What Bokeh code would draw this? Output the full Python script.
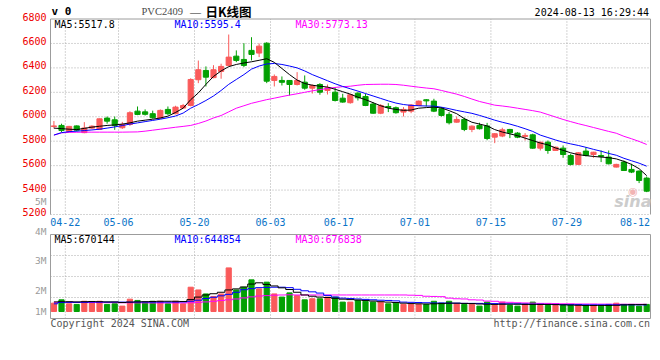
from bokeh.plotting import figure
from bokeh.models import ColumnDataSource, Range1d
from bokeh.embed import file_html
from bokeh.resources import INLINE
from bokeh.core.properties import value

# ---------------- data ----------------
dates = ["04-19","04-22","04-23","04-24","04-25","04-26","04-29","04-30","05-06","05-07",
         "05-08","05-09","05-10","05-13","05-14","05-15","05-16","05-17","05-20","05-21",
         "05-22","05-23","05-24","05-27","05-28","05-29","05-30","05-31","06-03","06-04",
         "06-05","06-06","06-07","06-11","06-12","06-13","06-14","06-17","06-18","06-19",
         "06-20","06-21","06-24","06-25","06-26","06-27","06-28","07-01","07-02","07-03",
         "07-04","07-05","07-08","07-09","07-10","07-11","07-12","07-15","07-16","07-17",
         "07-18","07-19","07-22","07-23","07-24","07-25","07-26","07-29","07-30","07-31",
         "08-01","08-02","08-05","08-06","08-07","08-08","08-09","08-12","08-13"]

opens = [5920,5929,5880,5925,5870,5907,5896,5989,5975,5910,
         5937,6046,6040,6025,5989,6060,6025,6071,6092,6303,
         6379,6320,6371,6420,6496,6469,6543,6521,6602,6297,
         6297,6297,6264,6283,6234,6264,6215,6201,6152,6115,
         6193,6166,6104,6029,6084,6074,6038,6046,6092,6139,
         6128,6065,6019,5956,5978,5896,5929,5925,5833,5842,
         5896,5866,5839,5852,5743,5792,5724,5743,5683,5610,
         5719,5691,5683,5670,5588,5629,5569,5555,5498]
highs = [5965,5943,5925,5929,5956,5930,5985,6002,6002,5958,
         6045,6084,6060,6050,6060,6084,6090,6105,6315,6460,
         6412,6422,6434,6673,6543,6602,6651,6600,6610,6346,
         6330,6300,6365,6338,6265,6275,6264,6242,6188,6188,
         6201,6188,6120,6104,6111,6084,6079,6104,6133,6145,
         6147,6079,6038,6002,5992,5929,5951,5950,5866,5910,
         5901,5874,5866,5861,5795,5806,5755,5765,5697,5711,
         5751,5713,5724,5724,5615,5642,5615,5561,5511]
lows = [5905,5874,5875,5880,5865,5900,5893,5943,5893,5900,
        5925,6013,6010,5985,5985,6015,6020,6065,6085,6275,
        6248,6315,6311,6415,6447,6406,6461,6488,6275,6248,
        6256,6174,6256,6221,6190,6180,6182,6125,6115,6107,
        6133,6087,6025,6021,6038,6025,6002,6029,6087,6084,
        6038,6002,5937,5951,5882,5874,5896,5808,5784,5833,
        5825,5825,5806,5738,5724,5697,5720,5664,5601,5605,
        5675,5664,5629,5610,5585,5560,5539,5457,5383]
closes = [5925,5888,5921,5890,5908,5923,5983,5964,5929,5937,
          6033,6019,6020,5992,6052,6025,6079,6092,6305,6385,
          6324,6385,6412,6488,6461,6420,6510,6578,6291,6330,
          6282,6264,6297,6234,6256,6201,6237,6133,6120,6180,
          6155,6092,6029,6092,6076,6033,6060,6096,6128,6130,
          6046,6011,5951,5978,5896,5923,5902,5822,5861,5893,
          5869,5833,5847,5743,5792,5724,5751,5691,5610,5705,
          5683,5710,5675,5615,5610,5560,5547,5479,5391]

ma5 = [5907,5903,5898,5895,5905,5915,5922,5929,5933,5940,
       5950,5964,5972,5980,5990,6005,6035,6070,6140,6195,
       6265,6330,6375,6410,6428,6440,6450,6462,6475,6445,
       6395,6345,6300,6272,6258,6250,6243,6225,6205,6185,
       6160,6140,6115,6090,6070,6060,6052,6055,6070,6075,
       6079,6072,6050,6025,5985,5955,5940,5925,5895,5875,
       5860,5845,5825,5805,5785,5770,5745,5725,5705,5690,
       5682,5675,5670,5665,5655,5635,5610,5575,5517.8]
ma10 = [5850,5870,5878,5882,5887,5892,5898,5907,5917,5928,
        5940,5950,5960,5970,5980,5992,6006,6030,6070,6100,
        6133,6170,6215,6265,6305,6345,6390,6415,6432,6436,
        6428,6415,6400,6375,6345,6320,6295,6270,6248,6229,
        6210,6190,6170,6150,6130,6112,6100,6093,6090,6088,
        6087,6078,6066,6052,6040,6028,6011,5992,5972,5955,
        5940,5922,5902,5880,5850,5830,5810,5792,5778,5765,
        5750,5733,5718,5700,5685,5660,5640,5620,5595.4]
ma30 = [5850,5868,5872,5873,5874,5874,5874,5874,5874,5874,
        5875,5876,5882,5890,5898,5906,5914,5921,5929,5945,
        5965,5990,6010,6040,6070,6090,6110,6125,6140,6152,
        6165,6177,6188,6200,6212,6222,6232,6240,6246,6250,
        6258,6264,6265,6266,6266,6264,6258,6250,6242,6235,
        6229,6215,6200,6185,6166,6145,6125,6110,6095,6088,
        6080,6070,6060,6050,6038,6018,5998,5978,5960,5943,
        5928,5912,5896,5880,5865,5840,5820,5798,5773.13]

volumes = [730000,890000,700000,670000,820000,760000,820000,670000,700000,590000,
           920000,860000,780000,820000,820000,700000,820000,700000,1490000,1360000,
           1170000,1050000,1170000,2410000,1360000,1490000,1840000,1410000,1730000,1170000,
           1020000,1220000,1090000,890000,940000,940000,1020000,1020000,780000,780000,
           860000,820000,780000,780000,700000,730000,670000,670000,670000,670000,
           820000,730000,820000,700000,670000,670000,590000,780000,620000,780000,
           620000,590000,700000,780000,620000,620000,620000,620000,620000,620000,
           620000,620000,590000,670000,730000,670000,670000,590000,670000]
vol_ma5 = [790000,800000,800000,790000,800000,810000,800000,790000,790000,760000,
           780000,790000,800000,810000,820000,820000,820000,810000,900000,1020000,
           1120000,1180000,1250000,1360000,1410000,1500000,1640000,1700000,1620000,1550000,
           1460000,1380000,1250000,1120000,1060000,1020000,1000000,960000,920000,900000,
           880000,860000,830000,800000,780000,760000,730000,710000,700000,690000,
           700000,710000,730000,730000,720000,710000,690000,680000,670000,680000,
           680000,680000,670000,670000,670000,670000,660000,650000,640000,630000,
           620000,620000,620000,620000,630000,650000,660000,660000,670144]
vol_ma10 = [700000,760000,770000,770000,770000,780000,780000,780000,780000,780000,
            780000,780000,780000,780000,780000,780000,780000,790000,820000,870000,
            950000,1010000,1080000,1150000,1250000,1370000,1420000,1470000,1480000,1490000,
            1490000,1470000,1390000,1320000,1270000,1210000,1100000,1020000,970000,950000,
            930000,910000,890000,870000,860000,840000,780000,770000,760000,750000,
            740000,740000,730000,730000,720000,720000,720000,710000,710000,700000,
            700000,700000,690000,680000,680000,670000,670000,660000,660000,660000,
            650000,650000,650000,650000,650000,650000,650000,650000,644854]
vol_ma30 = [770000,770000,770000,765000,765000,760000,760000,755000,755000,750000,
            750000,745000,745000,740000,740000,740000,740000,740000,750000,770000,
            790000,820000,860000,890000,930000,980000,1030000,1070000,1090000,1110000,
            1120000,1130000,1120000,1120000,1120000,1120000,1120000,1120000,1120000,1120000,
            1120000,1120000,1120000,1120000,1120000,1120000,1120000,1110000,1100000,1060000,
            1050000,1040000,970000,940000,930000,890000,880000,830000,820000,780000,
            770000,750000,740000,730000,720000,720000,710000,700000,700000,690000,
            690000,690000,685000,685000,680000,680000,680000,678000,676838]

price_ticks = [5200, 5400, 5600, 5800, 6000, 6200, 6400, 6600, 6800]
axis_dates = ["04-22", "05-06", "05-20", "06-03", "06-17", "07-01", "07-15", "07-29", "08-12"]
vol_ticks = [0, 1000000, 2000000, 3000000, 4000000]
vol_axis_labels = ["5M", "4M", "3M", "2M", "1M"]

# ---------------- layout / style ----------------
W, H = 652, 342
LEFT, RIGHT = 50.0, 650.0
MAIN_TOP, MAIN_BOT = 18.5, 214.0
VOL_TOP, VOL_BOT = 234.0, 318.0
X0, X1 = -0.45, 78.5

RED = "#fa5a5a"
GREEN = "#03a003"
GRID = "#aaaaaa"
BORDER = "#9c9c9c"
MONO = "DejaVu Sans Mono"

P_LO, P_HI = price_ticks[0], price_ticks[-1]
V_LO, V_HI = vol_ticks[0], vol_ticks[-1]
kx = (RIGHT - LEFT) / (X1 - X0)
kp = (MAIN_BOT - MAIN_TOP) / (P_HI - P_LO)
kv = (VOL_BOT - VOL_TOP) / (V_HI - V_LO)

p = figure(width=W, height=H, output_backend="svg", toolbar_location=None, tools="",
           x_range=Range1d(X0 - LEFT / kx, X1 + (W - RIGHT) / kx),
           y_range=Range1d(H, 0),
           x_axis_location=None, y_axis_location=None,
           min_border=0, min_border_left=0, min_border_right=0,
           min_border_top=0, min_border_bottom=0)
p.extra_x_ranges = {"px": Range1d(0, W)}
p.extra_y_ranges = {
    "price": Range1d(P_LO - (H - MAIN_BOT) / kp, P_HI + MAIN_TOP / kp),
    "vol": Range1d(V_LO - (H - VOL_BOT) / kv, V_HI + VOL_TOP / kv),
}
p.outline_line_color = None
p.grid.grid_line_color = None
p.background_fill_color = "white"
p.border_fill_color = "white"

n = len(dates)
idx = list(range(n))
colors = [RED if c >= o else GREEN for o, c in zip(opens, closes)]
src = ColumnDataSource(dict(
    x=idx, o=opens, h=highs, l=lows, c=closes,
    top=[max(o, c) for o, c in zip(opens, closes)],
    bot=[min(o, c) for o, c in zip(opens, closes)],
    color=colors, vol=volumes,
    ma5=ma5, ma10=ma10, ma30=ma30,
    vma5=vol_ma5, vma10=vol_ma10, vma30=vol_ma30,
))

grid_pos = [dates.index(d) + 0.5 for d in axis_dates[:-1]]
label_pos = [min(dates.index(d) + 0.5, X1 - 15.5 / kx) for d in axis_dates]

# ---- grids (dotted) ----
inner_price = price_ticks[1:-1]
p.segment(x0=[X0] * len(inner_price), x1=[X1] * len(inner_price), y0=inner_price, y1=inner_price,
          y_range_name="price", line_color=GRID, line_dash="1 2", line_width=1)
p.segment(x0=grid_pos, x1=grid_pos, y0=[P_LO] * len(grid_pos), y1=[P_HI] * len(grid_pos),
          y_range_name="price", line_color=GRID, line_dash="1 2", line_width=1)
inner_vol = vol_ticks[1:-1]
p.segment(x0=[X0] * len(inner_vol), x1=[X1] * len(inner_vol), y0=inner_vol, y1=inner_vol,
          y_range_name="vol", line_color=GRID, line_dash="1 2", line_width=1)
p.segment(x0=grid_pos, x1=grid_pos, y0=[V_LO] * len(grid_pos), y1=[V_HI] * len(grid_pos),
          y_range_name="vol", line_color=GRID, line_dash="1 2", line_width=1)

# ---- panel borders ----
p.segment(x0=[X0, X0, X1], y0=[P_LO, P_HI, P_LO], x1=[X0, X1, X1], y1=[P_HI, P_HI, P_HI],
          y_range_name="price", line_color=BORDER, line_width=1)
p.segment(x0=[X0], y0=[P_LO], x1=[X1], y1=[P_LO], y_range_name="price",
          line_color=GRID, line_dash="1 2", line_width=1)
p.quad(left=[X0], right=[X1], bottom=[V_LO], top=[V_HI], y_range_name="vol",
       fill_color=None, line_color=BORDER, line_width=1)

# ---- candles ----
p.segment(x0="x", y0="l", x1="x", y1="h", line_color="color", line_width=1,
          y_range_name="price", source=src)
p.vbar(x="x", width=0.68, top="top", bottom="bot", fill_color="color",
       line_color="color", line_width=1, y_range_name="price", source=src)
p.line("x", "ma30", line_color="#ff00ff", line_width=1, y_range_name="price", source=src)
p.line("x", "ma10", line_color="#0000ff", line_width=1, y_range_name="price", source=src)
p.line("x", "ma5", line_color="black", line_width=1, y_range_name="price", source=src)

# ---- volume ----
VOL_FLOOR = 333000
p.vbar(x="x", width=0.68, top="vol", bottom=VOL_FLOOR, fill_color="color",
       line_color="color", line_width=1, y_range_name="vol", source=src)
p.step("x", "vma30", mode="center", line_color="#ff00ff", line_width=1, y_range_name="vol", source=src)
p.step("x", "vma10", mode="center", line_color="#0000ff", line_width=1, y_range_name="vol", source=src)
p.step("x", "vma5", mode="center", line_color="black", line_width=1, y_range_name="vol", source=src)

# ---- axis labels ----
p.text(x=[X0] * len(price_ticks), y=price_ticks, text=[str(t) for t in price_ticks],
       y_range_name="price", x_offset=-4, y_offset=-2.5, text_align="right",
       text_baseline="middle", text_color="#ee0000", text_font=value(MONO), text_font_size="10px")
p.text(x=label_pos, y=[P_LO] * len(label_pos), text=axis_dates, y_range_name="price",
       y_offset=7.2, text_align="center", text_baseline="middle", text_color="#0a74c8",
       text_font=value(MONO), text_font_size="10px")


def ptext(x, y, s, color, align="left", size="10px", font=MONO, style="normal"):
    p.text(x=[x], y=[y], text=[s], x_range_name="px", text_color=color, text_align=align,
           text_baseline="middle", text_font=value(font), text_font_size=size,
           text_font_style=style)


# volume scale labels (Sina prints them every 30 px, 1M lifted above the footer)
for t, yy in zip(vol_axis_labels, [200.5, 230.5, 260, 290, 311]):
    ptext(46, yy, t, "#9a9a9a", align="right", size="9.5px")

# header
ptext(51, 11.2, "v 0", "black", size="11px", style="bold")
ptext(141, 11.2, "PVC2409", "#4a4a4a", size="10.5px", font="Liberation Serif")
ptext(189.5, 11.2, "\u2014", "#222222", size="11px", font="Liberation Serif")
ptext(205, 10.8, "日K线图", "black", size="12.5px", font="Noto Sans CJK SC", style="bold")
ptext(648.5, 12, "2024-08-13 16:29:44", "black", align="right")

# MA legends
ptext(54, 24, "MA5:" + str(ma5[-1]), "black")
ptext(174, 24, "MA10:" + str(ma10[-1]), "#0000ff")
ptext(295, 24, "MA30:" + str(ma30[-1]), "#ff00ff")
ptext(54, 239, "MA5:" + str(vol_ma5[-1]), "black")
ptext(174, 239, "MA10:" + str(vol_ma10[-1]), "#0000ff")
ptext(295, 239, "MA30:" + str(vol_ma30[-1]), "#ff00ff")

# watermark + footer
ptext(632.5, 191, "\u25c9", "#f2b4b4", align="center", size="11px", font="DejaVu Sans")
ptext(651, 200.5, "sina", "#cccccc", align="right", size="16px", font="DejaVu Sans", style="bold italic")
ptext(50, 322.7, "Copyright 2024 SINA.COM", "#555555")
ptext(649.5, 322.7, "http://finance.sina.com.cn", "#555555", align="right")

open("out.html", "w").write(file_html(p, INLINE))
